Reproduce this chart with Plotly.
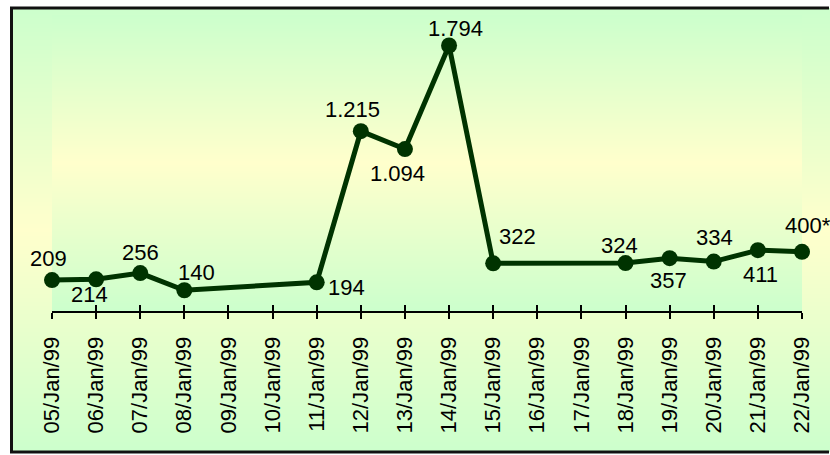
import plotly.graph_objects as go

# ---------------- data ----------------
dates = ["05/Jan/99", "06/Jan/99", "07/Jan/99", "08/Jan/99", "09/Jan/99", "10/Jan/99",
         "11/Jan/99", "12/Jan/99", "13/Jan/99", "14/Jan/99", "15/Jan/99", "16/Jan/99",
         "17/Jan/99", "18/Jan/99", "19/Jan/99", "20/Jan/99", "21/Jan/99", "22/Jan/99"]
values = [209, 214, 256, 140, None, None,
          194, 1215, 1094, 1794, 322, None,
          None, 324, 357, 334, 411, 400]
notes = ["", "", "", "", "", "", "", "", "", "", "", "", "", "", "", "", "", "*"]

# label offsets (pixels, x right / y up) -- styling only
label_dx = [-4, -7, 0, 12, 0, 0, 30, -8, -7, 6, 24, 0, 0, -6, -1, 1, 3, 6]
label_dy = [22, -15, 21, 18, 0, 0, -5, 22, -24, 17, 27, 0, 0, 18, -22, 24, -24, 26]

W, H = 830, 455
L, R, T, B = 52, 28, 15, 144
PW, PH = W - L - R, H - T - B

GREEN = (204, 255, 204)
YELLOW = (255, 255, 204)
FONT = "Arial, 'Liberation Sans', sans-serif"


def mix(t):
    c = [round(YELLOW[i] * (1 - t) + GREEN[i] * t) for i in range(3)]
    return f"rgb({c[0]},{c[1]},{c[2]})"


def px_x(x):
    return (x - L) / PW


def px_y(y):
    return 1 - (y - T) / PH


shapes = []


def gradient(x0, x1, y0, y1, step=2):
    cy = (y0 + y1) / 2
    half = (y1 - y0) / 2
    y = y0
    while y < y1:
        ye = min(y + step, y1)
        t = abs((y + ye) / 2 - cy) / half
        shapes.append(dict(type="rect", xref="paper", yref="paper",
                           x0=px_x(x0), x1=px_x(x1), y0=px_y(ye), y1=px_y(y),
                           fillcolor=mix(t), line=dict(width=0), layer="below"))
        y = ye


# outer chart area gradient
gradient(11.5, W, 8, 452)
# plot area gradient
gradient(L, L + PW, T, T + PH)
# border: top, left, bottom (right edge lies outside the picture)
for (ax, ay, bx, by) in [(10, 8, W - 1, 8), (11.5, 8, 11.5, 452), (10, 452, W - 1, 452)]:
    shapes.append(dict(type="line", xref="paper", yref="paper",
                       x0=px_x(ax), y0=px_y(ay), x1=px_x(bx), y1=px_y(by),
                       line=dict(color="#111111", width=3), layer="above"))

fig = go.Figure()
fig.add_trace(go.Scatter(
    x=dates, y=values, mode="lines+markers", connectgaps=True,
    line=dict(color="#003300", width=5),
    marker=dict(color="#003300", size=16),
    cliponaxis=False, hoverinfo="skip", showlegend=False))
fig.add_trace(go.Scatter(x=[0, 17], y=[None, None], xaxis="x2", yaxis="y",
                         showlegend=False, hoverinfo="skip", mode="markers"))

annotations = []
for d, v, n, dx, dy in zip(dates, values, notes, label_dx, label_dy):
    if v is None:
        continue
    annotations.append(dict(
        x=d, y=v, xref="x", yref="y", text=f"{v:,}".replace(",", ".") + n,
        showarrow=False, xanchor="center", yanchor="middle",
        xshift=dx, yshift=dy,
        font=dict(family=FONT, size=22, color="black")))

fig.update_layout(
    width=W, height=H, autosize=False,
    margin=dict(l=L, r=R, t=T, b=B, pad=0),
    paper_bgcolor="white", plot_bgcolor="rgba(0,0,0,0)",
    shapes=shapes, annotations=annotations,
    font=dict(family=FONT, size=22, color="black"),
    xaxis=dict(type="category", categoryorder="array", categoryarray=dates,
               range=[0, len(dates) - 1], showgrid=False, zeroline=False,
               showline=True, linecolor="black", linewidth=2,
               ticks="outside", ticklen=6, tickwidth=2, tickcolor="black",
               tickangle=-90, tickfont=dict(family=FONT, size=22, color="black"),
               ticklabelstandoff=9),
    xaxis2=dict(overlaying="x", anchor="y", range=[0, len(dates) - 1],
                tick0=0, dtick=1, ticks="inside", ticklen=6, tickwidth=2,
                tickcolor="black", showticklabels=False, showgrid=False,
                zeroline=False, showline=False, side="bottom"),
    yaxis=dict(range=[0, 2000], visible=False, showgrid=False, zeroline=False),
)

fig.write_html("out.html")
